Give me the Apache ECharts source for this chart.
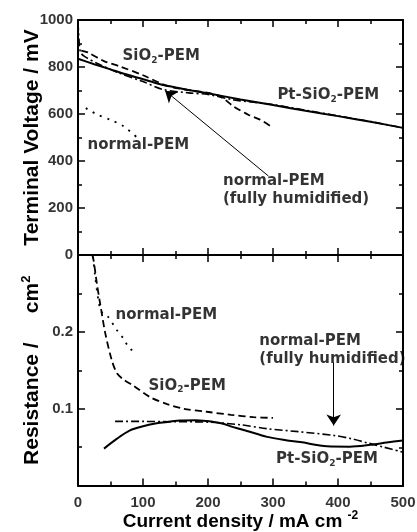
<!DOCTYPE html>
<html><head><meta charset="utf-8">
<script src="https://cdn.jsdelivr.net/npm/echarts@6/dist/echarts.min.js"></script>
<style>html,body{margin:0;padding:0;background:#fff}#c{width:417px;height:532px}</style>
</head><body><div id="c"></div>
<script>
// ---- Top panel: terminal voltage (mV) vs current density (mA cm-2)
const topPtX = [0,25,50,75,100,125,150,175,200,250,300,350,400,450,500];
const topPtY = [835,812,790,768,748,728,713,700,688,662,638,614,591,567,541];
const topSiX = [5,15,40,65,100,137,175,200,220,239,262,280,298];
const topSiY = [870,862,825,802,765,720,700,690,673,633,597,576,545];
const topHumX = [0,2,4,10,30,60,100,130,170,200,240,300,350,400,450,500];
const topHumY = [990,900,862,845,815,778,738,705,690,683,660,640,616,592,568,541];
const topNorX = [12,20,30,50,70,90];
const topNorY = [625,612,597,575,548,502];
// ---- Bottom panel: resistance vs current density
const botSiX = [22,24,29,34,42,52,60,70,85,111,137,162,198,235,270,300];
const botSiY = [0.30,0.293,0.263,0.237,0.198,0.163,0.146,0.138,0.130,0.115,0.106,0.100,0.096,0.092,0.089,0.088];
const botNorX = [23,26,31,36,44,60,70,78,89];
const botNorY = [0.298,0.275,0.243,0.226,0.222,0.202,0.191,0.180,0.172];
const botPtX = [40,60,80,100,121,140,157,180,198,220,239,260,291,320,342,383,418,450,475,500];
const botPtY = [0.048,0.061,0.0717,0.077,0.081,0.083,0.0847,0.085,0.0838,0.081,0.076,0.071,0.0633,0.059,0.0565,0.051,0.0505,0.053,0.056,0.0587];
const botHumX = [57,100,150,200,250,291,340,394,420,447,470,500];
const botHumY = [0.0834,0.0834,0.083,0.0825,0.079,0.0739,0.070,0.0651,0.061,0.0551,0.050,0.0433];
// ---- axis ticks / tick labels
const xTicks = [0,100,200,300,400,500];
const vTicks = [0,200,400,600,800,1000];
const rTicks = [0,0.1,0.2,0.3];
const rTickLabels = ['0.1','0.2'];

const zip = (xs, ys) => xs.map((x, i) => [x, ys[i]]);
const BLK = '#000000';
const TF = 'Liberation Sans';
const LF = 'DejaVu Sans';

function axisBase(extra) {
  return Object.assign({
    type: 'value',
    axisLine: {show: true, onZero: false, lineStyle: {color: BLK, width: 2}},
    axisTick: {show: true, inside: true, length: 7, lineStyle: {color: BLK, width: 1.5}},
    minorTick: {show: true, splitNumber: 2, length: 4, lineStyle: {color: BLK, width: 1.5}},
    splitLine: {show: false},
    minorSplitLine: {show: false},
    axisLabel: {show: false},
    nameMoveOverlap: false
  }, extra);
}

const xCommon = {min: xTicks[0], max: xTicks[xTicks.length - 1], interval: xTicks[1] - xTicks[0]};
const vCommon = {min: vTicks[0], max: vTicks[vTicks.length - 1], interval: vTicks[1] - vTicks[0]};
const rCommon = {min: rTicks[0], max: rTicks[rTicks.length - 1], interval: rTicks[1] - rTicks[0]};

const rich = {
  a: {fontFamily: LF, fontWeight: 'bold', fontSize: 15, color: BLK, lineHeight: 18},
  s: {fontFamily: LF, fontWeight: 'bold', fontSize: 9, color: BLK, lineHeight: 9, verticalAlign: 'bottom'}
};
const tickRich = {l: {fontFamily: TF, fontWeight: 'bold', fontSize: 15, color: BLK, lineHeight: 17}};
const richTitle = {
  t: {fontFamily: TF, fontWeight: 'bold', fontSize: 19, color: BLK, lineHeight: 24},
  p: {fontFamily: TF, fontWeight: 'bold', fontSize: 12, color: BLK, lineHeight: 12, verticalAlign: 'top'}
};
const richYTitle = {
  t: {fontFamily: TF, fontWeight: 'bold', fontSize: 21, color: BLK, lineHeight: 25},
  p: {fontFamily: TF, fontWeight: 'bold', fontSize: 13, color: BLK, lineHeight: 13, verticalAlign: 'top'}
};

function lineSeries(data, xi, yi, type, width) {
  return {
    type: 'line', data: data, xAxisIndex: xi, yAxisIndex: yi,
    showSymbol: false, symbol: 'none', smooth: 0.3, silent: true,
    lineStyle: {color: BLK, width: width || 1.8, type: type}
  };
}
function textPt(x, y, fmt, align) {
  return {value: [x, y], label: {show: true, position: 'inside', formatter: fmt, rich: rich,
    align: align || 'center', verticalAlign: 'middle'}};
}
function tickLabels(data, xi, yi, pos, dist, fmt) {
  return {
    type: 'scatter', xAxisIndex: xi, yAxisIndex: yi, symbolSize: 0, silent: true, clip: false,
    data: data,
    label: {show: true, position: pos, distance: dist, rich: tickRich,
      formatter: p => '{l|' + fmt(p.value) + '}'}
  };
}
const SIO2 = '{a|SiO}{s|2}{a|-PEM}';
const PTSIO2 = '{a|Pt-SiO}{s|2}{a|-PEM}';
const NORM = '{a|normal-PEM}';
const HUM = '{a|normal-PEM}\n{a|(fully humidified)}';

const option = {
  animation: false,
  backgroundColor: '#fff',
  grid: [
    {left: 78, top: 20, width: 325, height: 235},
    {left: 78, top: 255, width: 325, height: 231},
    {left: 78, top: 20, width: 325, height: 235},
    {left: 78, top: 255, width: 325, height: 231}
  ],
  xAxis: [
    axisBase(Object.assign({gridIndex: 0, position: 'bottom'}, xCommon)),
    axisBase(Object.assign({gridIndex: 1, position: 'bottom',
      name: '{t|Current density / mA cm }{p|-2}', nameLocation: 'middle', nameGap: 24,
      nameTextStyle: {rich: richTitle}}, xCommon)),
    axisBase(Object.assign({gridIndex: 2, position: 'top'}, xCommon)),
    axisBase(Object.assign({gridIndex: 3, position: 'top'}, xCommon))
  ],
  yAxis: [
    axisBase(Object.assign({gridIndex: 0, position: 'left',
      name: '{t|Terminal Voltage / mV}', nameLocation: 'middle', nameGap: 33,
      nameTextStyle: {rich: richYTitle}}, vCommon)),
    axisBase(Object.assign({gridIndex: 1, position: 'left',
      name: '{t|Resistance /     cm}{p|2}', nameLocation: 'middle', nameGap: 33,
      nameTextStyle: {rich: richYTitle}}, rCommon)),
    axisBase(Object.assign({gridIndex: 2, position: 'right'}, vCommon)),
    axisBase(Object.assign({gridIndex: 3, position: 'right'}, rCommon))
  ],
  series: [
    lineSeries(zip(topPtX, topPtY), 0, 0, 'solid', 2),
    lineSeries(zip(topSiX, topSiY), 0, 0, [7, 4], 1.8),
    lineSeries(zip(topHumX, topHumY), 0, 0, [8, 3, 2, 3], 1.6),
    lineSeries(zip(topNorX, topNorY), 0, 0, [2, 6], 1.8),
    lineSeries(zip(botPtX, botPtY), 1, 1, 'solid', 2),
    lineSeries(zip(botSiX, botSiY), 1, 1, [7, 4], 1.8),
    lineSeries(zip(botHumX, botHumY), 1, 1, [8, 3, 2, 3], 1.6),
    lineSeries(zip(botNorX, botNorY), 1, 1, [2, 6], 1.8),
    {
      type: 'lines', coordinateSystem: 'cartesian2d', xAxisIndex: 0, yAxisIndex: 0,
      symbol: ['none', 'arrow'], symbolSize: [7, 11], silent: true,
      lineStyle: {color: BLK, width: 1, opacity: 1},
      data: [{coords: [[293, 336], [134, 699]]}]
    },
    {
      type: 'lines', coordinateSystem: 'cartesian2d', xAxisIndex: 1, yAxisIndex: 1,
      symbol: ['none', 'arrow'], symbolSize: [7, 11], silent: true,
      lineStyle: {color: BLK, width: 1, opacity: 1},
      data: [{coords: [[393.4, 0.16], [393.4, 0.078]]}]
    },
    {
      type: 'scatter', xAxisIndex: 0, yAxisIndex: 0, symbolSize: 0, silent: true,
      data: [
        textPt(128, 846, SIO2),
        textPt(385, 680, PTSIO2),
        textPt(93, 467, NORM),
        textPt(223, 278, HUM, 'left')
      ]
    },
    {
      type: 'scatter', xAxisIndex: 1, yAxisIndex: 1, symbolSize: 0, silent: true,
      data: [
        textPt(136, 0.222, NORM),
        textPt(168, 0.130, SIO2),
        textPt(279, 0.176, HUM, 'left'),
        textPt(383, 0.034, PTSIO2)
      ]
    },
    tickLabels(vTicks.map(v => [xTicks[0], v]), 0, 0, 'left', 5, v => String(v[1])),
    tickLabels(rTickLabels.map(s => [xTicks[0], parseFloat(s)]), 1, 1, 'left', 5, v => v[1].toFixed(1)),
    tickLabels(xTicks.map(x => [x, rTicks[0]]), 1, 1, 'bottom', 9, v => String(v[0]))
  ]
};
const chart = echarts.init(document.getElementById('c'), null, {renderer: 'canvas'});
chart.setOption(option);
</script></body></html>
